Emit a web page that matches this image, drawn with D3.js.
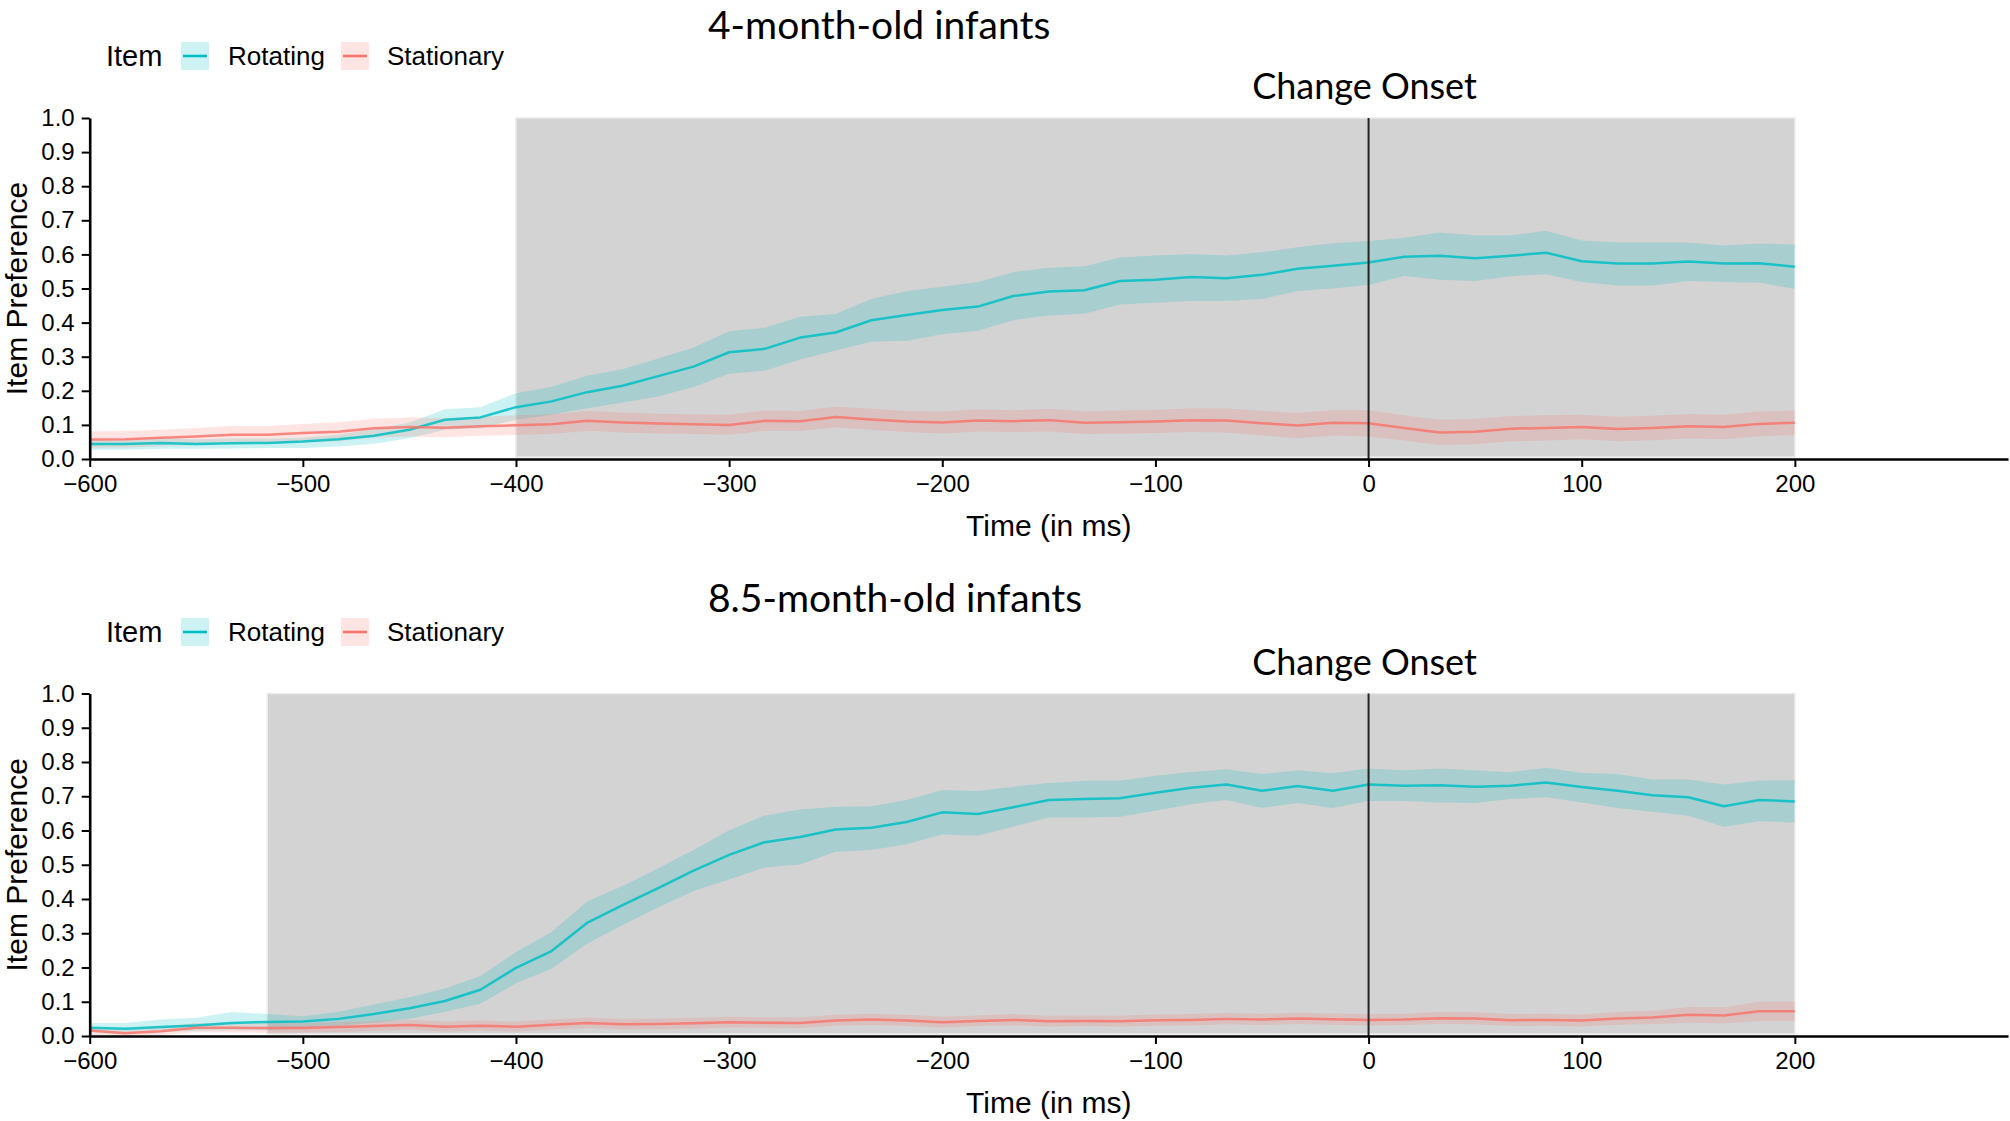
<!DOCTYPE html>
<html>
<head>
<meta charset="utf-8">
<script src="https://cdn.jsdelivr.net/npm/d3@7"></script>
<style>
  html, body { margin: 0; padding: 0; background: #fff; }
  svg { display: block; }
</style>
</head>
<body>
<svg id="chart" width="2010" height="1121"></svg>
<script>
// ---------- data ----------
const times = [
  -600, -583.3, -566.7, -550, -533.3, -516.7, -500,
  -483.3, -466.7, -450, -433.3, -416.7, -400, -383.3,
  -366.7, -350, -333.3, -316.7, -300, -283.3, -266.7,
  -250, -233.3, -216.7, -200, -183.3, -166.7, -150,
  -133.3, -116.7, -100, -83.3, -66.7, -50, -33.3,
  -16.7, 0, 16.7, 33.3, 50, 66.7, 83.3,
  100, 116.7, 133.3, 150, 166.7, 183.3, 200
];

const seriesNames = ["Rotating", "Stationary"];
const panelTitles = ["4-month-old infants", "8.5-month-old infants"];
const shadeStart = [-400, -516.7];
const shadeEnd = [200, 200];
const onsetTime = 0;
const onsetLabel = "Change Onset";
const xTicks = [-600, -500, -400, -300, -200, -100, 0, 100, 200];
const yTicks = [0, 0.1, 0.2, 0.3, 0.4, 0.5, 0.6, 0.7, 0.8, 0.9, 1.0];

// 4-month-old: Rotating
const topRotMean = [
  .044,.044,.047,.044,.046,.047,.051,
  .058,.068,.086,.115,.122,.152,.169,
  .196,.215,.243,.271,.313,.323,.356,
  .371,.407,.422,.437,.447,.478,.491,
  .495,.522,.526,.534,.530,.540,.558,
  .567,.576,.593,.596,.589,.596,.605,
  .580,.573,.573,.579,.573,.574,.564
];
const topRotLo = [
  .027,.027,.030,.030,.031,.032,.032,
  .037,.045,.061,.086,.090,.115,.130,
  .149,.166,.183,.211,.250,.259,.292,
  .318,.344,.347,.366,.376,.407,.421,
  .426,.453,.458,.463,.463,.469,.493,
  .500,.510,.537,.526,.522,.536,.542,
  .519,.509,.509,.522,.519,.517,.499
];
const topRotHi = [
  .057,.058,.062,.058,.060,.060,.062,
  .072,.088,.107,.146,.152,.193,.212,
  .244,.263,.295,.327,.375,.385,.417,
  .425,.469,.493,.505,.519,.548,.561,
  .565,.591,.597,.601,.597,.606,.621,
  .633,.639,.649,.664,.656,.656,.669,
  .641,.635,.635,.635,.626,.632,.629
];
// 4-month-old: Stationary
const topStaMean = [
  .057,.058,.062,.066,.071,.071,.076,
  .080,.090,.094,.092,.096,.099,.102,
  .112,.107,.104,.102,.100,.112,.111,
  .123,.116,.110,.107,.113,.111,.114,
  .106,.108,.110,.114,.113,.105,.098,
  .106,.105,.091,.078,.080,.089,.091,
  .094,.088,.091,.096,.094,.103,.106
];
const topStaLo = [
  .033,.034,.038,.041,.045,.045,.049,
  .052,.062,.066,.064,.068,.071,.073,
  .083,.078,.075,.073,.071,.083,.082,
  .093,.086,.079,.075,.081,.079,.081,
  .073,.074,.076,.079,.078,.069,.061,
  .069,.066,.054,.041,.043,.052,.054,
  .058,.052,.055,.060,.058,.067,.070
];
const topStaHi = [
  .081,.082,.086,.091,.097,.097,.103,
  .108,.118,.122,.120,.124,.128,.131,
  .141,.136,.133,.131,.130,.142,.141,
  .153,.147,.141,.139,.145,.143,.147,
  .139,.142,.144,.149,.148,.141,.135,
  .143,.143,.128,.115,.117,.126,.128,
  .130,.124,.127,.132,.130,.139,.142
];
// 8.5-month-old: Rotating
const botRotMean = [
  .024,.021,.026,.031,.038,.041,.042,
  .050,.064,.081,.102,.135,.199,.248,
  .330,.382,.432,.483,.529,.566,.581,
  .603,.608,.625,.653,.648,.668,.689,
  .692,.694,.710,.725,.734,.716,.730,
  .716,.734,.731,.732,.728,.731,.740,
  .727,.716,.703,.697,.671,.689,.685
];
const botRotLo = [
  .011,.008,.011,.015,.017,.017,.024,
  .030,.039,.050,.071,.094,.154,.196,
  .269,.323,.375,.423,.457,.492,.501,
  .538,.543,.560,.588,.585,.611,.638,
  .638,.640,.658,.677,.689,.666,.680,
  .666,.686,.686,.682,.680,.692,.697,
  .682,.666,.655,.643,.611,.627,.623
];
const botRotHi = [
  .038,.038,.048,.053,.070,.064,.058,
  .071,.092,.113,.139,.175,.245,.304,
  .393,.438,.490,.543,.601,.644,.661,
  .669,.671,.689,.718,.715,.728,.739,
  .745,.746,.760,.771,.779,.765,.776,
  .767,.781,.776,.781,.776,.770,.783,
  .768,.765,.749,.749,.734,.746,.747
];
// 8.5-month-old: Stationary
const botStaMean = [
  .016,.008,.014,.024,.024,.023,.023,
  .026,.029,.032,.027,.030,.027,.033,
  .038,.034,.035,.037,.040,.039,.038,
  .045,.048,.045,.040,.044,.047,.043,
  .044,.043,.046,.047,.050,.048,.051,
  .049,.047,.048,.052,.051,.046,.047,
  .045,.051,.054,.062,.060,.072,.072
];
const botStaLo = [
  .004,.000,.003,.011,.010,.009,.010,
  .012,.015,.018,.013,.016,.013,.019,
  .023,.019,.020,.022,.025,.024,.023,
  .030,.032,.029,.025,.029,.031,.028,
  .029,.028,.030,.031,.034,.032,.035,
  .033,.031,.032,.035,.034,.029,.030,
  .028,.033,.035,.039,.037,.044,.044
];
const botStaHi = [
  .028,.018,.027,.038,.039,.038,.037,
  .041,.044,.047,.042,.045,.042,.048,
  .054,.050,.051,.053,.056,.055,.054,
  .062,.065,.062,.056,.060,.064,.059,
  .060,.059,.063,.064,.067,.065,.068,
  .066,.064,.065,.070,.069,.064,.065,
  .063,.070,.074,.085,.084,.100,.101
];

// ---------- layout ----------
const colors = { Rotating: "#00BFC4", Stationary: "#F8766D" };
const W = 2010;
const xLeft = 89.7, xRight = 2008;
const panels = [
  { title: panelTitles[0], top: 118, bottom: 459, titleY: 39, legendY: 56,
    shade: [shadeStart[0], shadeEnd[0]],
    series: [
      { name: "Rotating", mean: topRotMean, lo: topRotLo, hi: topRotHi },
      { name: "Stationary", mean: topStaMean, lo: topStaLo, hi: topStaHi }
    ] },
  { title: panelTitles[1], top: 693.5, bottom: 1036, titleY: 612, legendY: 632,
    shade: [shadeStart[1], shadeEnd[1]],
    series: [
      { name: "Rotating", mean: botRotMean, lo: botRotLo, hi: botRotHi },
      { name: "Stationary", mean: botStaMean, lo: botStaLo, hi: botStaHi }
    ] }
];

const svg = d3.select("#chart");
svg.append("rect").attr("width", W).attr("height", 1121).attr("fill", "#fff");

const x = d3.scaleLinear().domain([-600, 300]).range([xLeft, xRight]);
const tickFmt = d3.format(".1f");
const xFmt = d3.format("d");
const sansFont = "'Liberation Sans', Arial, Helvetica, sans-serif";
const titleFont = "Lato, 'Open Sans', sans-serif";

panels.forEach(p => {
  const y = d3.scaleLinear().domain([0, 1]).range([p.bottom, p.top]);
  const g = svg.append("g");

  // shaded window
  g.append("rect")
    .attr("x", x(p.shade[0]))
    .attr("y", y(1))
    .attr("width", x(p.shade[1]) - x(p.shade[0]))
    .attr("height", y(0) - y(1) - 2)
    .attr("fill", "#d3d3d3")
    .attr("stroke", "#ebebeb")
    .attr("stroke-width", 1.5);

  // ribbons
  p.series.forEach(s => {
    const area = d3.area()
      .x((d, i) => x(times[i]))
      .y0((d, i) => y(s.lo[i]))
      .y1((d, i) => y(s.hi[i]));
    g.append("path")
      .datum(s.mean)
      .attr("d", area)
      .attr("fill", colors[s.name])
      .attr("fill-opacity", 0.2)
      .attr("stroke", "none");
  });
  // lines
  p.series.forEach(s => {
    const line = d3.line()
      .x((d, i) => x(times[i]))
      .y(d => y(d));
    g.append("path")
      .datum(s.mean)
      .attr("d", line)
      .attr("fill", "none")
      .attr("stroke", colors[s.name])
      .attr("stroke-width", 2.5)
      .attr("stroke-opacity", 0.85)
      .attr("stroke-linejoin", "round");
  });

  // onset line
  g.append("line")
    .attr("x1", x(onsetTime)).attr("x2", x(onsetTime))
    .attr("y1", y(1)).attr("y2", y(0))
    .attr("stroke", "#222").attr("stroke-width", 2);

  // axes
  const yAxis = d3.axisLeft(y).tickValues(yTicks).tickFormat(tickFmt)
    .tickSize(8).tickSizeOuter(0).tickPadding(7);
  const ya = g.append("g").attr("transform", `translate(${xLeft},0)`).call(yAxis);
  const xAxis = d3.axisBottom(x).tickValues(xTicks).tickFormat(xFmt)
    .tickSize(8).tickSizeOuter(0).tickPadding(8);
  const xa = g.append("g").attr("transform", `translate(0,${p.bottom})`).call(xAxis);
  [ya, xa].forEach(a => {
    a.select(".domain").attr("stroke", "#000").attr("stroke-width", 2.6);
    a.selectAll(".tick line").attr("stroke", "#000").attr("stroke-width", 2);
    a.selectAll(".tick text").attr("fill", "#000")
      .style("font-family", sansFont).style("font-size", "24px");
  });

  // axis titles
  g.append("text")
    .attr("x", (xLeft + xRight) / 2).attr("y", p.bottom + 77)
    .attr("text-anchor", "middle")
    .style("font-family", sansFont).style("font-size", "30px")
    .text("Time (in ms)");
  g.append("text")
    .attr("transform", `translate(16,${(p.top + p.bottom) / 2}) rotate(-90)`)
    .attr("text-anchor", "middle").attr("dy", "0.35em")
    .style("font-family", sansFont).style("font-size", "30px")
    .text("Item Preference");

  // panel title
  g.append("text")
    .attr("x", 708).attr("y", p.titleY)
    .attr("text-anchor", "start")
    .style("font-family", titleFont).style("font-size", "39px")
    .text(p.title);

  // change onset label
  g.append("text")
    .attr("x", x(onsetTime) - 4).attr("y", p.top - 19)
    .attr("text-anchor", "middle")
    .style("font-family", titleFont).style("font-size", "36px")
    .text(onsetLabel);

  // legend
  const lg = g.append("g").attr("transform", `translate(0,${p.legendY})`);
  lg.append("text").attr("x", 106).attr("y", 0).attr("dy", "0.35em")
    .style("font-family", sansFont).style("font-size", "29px").text("Item");
  const keyX = [181, 341], labX = [228, 387];
  seriesNames.forEach((n, i) => {
    lg.append("rect").attr("x", keyX[i]).attr("y", -14).attr("width", 28).attr("height", 28)
      .attr("fill", colors[n]).attr("fill-opacity", 0.2);
    lg.append("line").attr("x1", keyX[i] + 2).attr("x2", keyX[i] + 26)
      .attr("y1", 0).attr("y2", 0)
      .attr("stroke", colors[n]).attr("stroke-width", 2.6);
    lg.append("text").attr("x", labX[i]).attr("y", 0).attr("dy", "0.35em")
      .style("font-family", sansFont).style("font-size", "26px").text(n);
  });
});
</script>
</body>
</html>
